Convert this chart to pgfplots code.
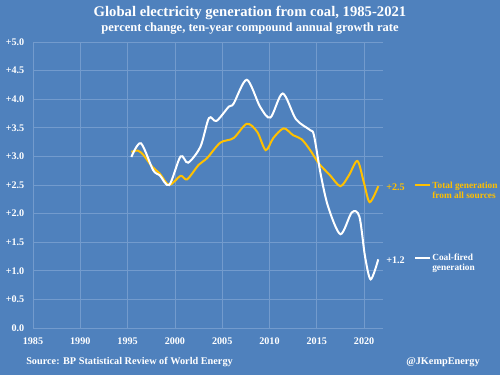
\documentclass[border=0pt]{standalone}
\usepackage{pgfplots}
\pgfplotsset{compat=1.18}
\usepackage{fontspec}
\setmainfont{Liberation Serif}
\definecolor{bgblue}{RGB}{79,129,189}
\definecolor{gold}{RGB}{255,192,0}
\definecolor{gridc}{RGB}{115,155,205}
\begin{document}
\begin{tikzpicture}
\fill[bgblue] (0,0) rectangle (375pt,281.25pt);
\useasboundingbox (0,0) rectangle (375pt,281.25pt);
\begin{axis}[
  at={(24.75pt,35.25pt)}, anchor=south west,
  scale only axis, width=262.5pt, height=214.5pt,
  xmin=1985, xmax=2022, ymin=0, ymax=5,
  xtick={1985,1990,...,2020}, ytick={0,0.5,...,5},
  axis line style={draw=none}, tick style={draw=none},
  grid=major, major grid style={gridc, line width=0.5pt},
  tick label style={font=\bfseries\fontsize{7.6}{9}\selectfont, text=white},
  /pgf/number format/assume math mode=true,
  xticklabel style={/pgf/number format/1000 sep={}, yshift=-4pt},
  yticklabel={\ifdim\tick pt=0pt 0.0\else+\pgfmathprintnumber[fixed,fixed zerofill,precision=1]{\tick}\fi},
  xticklabel={\pgfmathprintnumber[1000 sep={},fixed,precision=0]{\tick}},
  yticklabel style={xshift=-3pt},
  clip=false,
]
\addplot[gold, line width=1.5pt, smooth, tension=0.5] coordinates {
(1995.4,3.08)(1996.1,3.10)(1996.7,3.02)(1997.6,2.82)(1998.4,2.70)(1999.4,2.50)
(2000.6,2.66)(2001.3,2.60)(2002.5,2.85)(2003.4,2.97)(2004.8,3.24)(2006.2,3.32)
(2007.6,3.57)(2008.7,3.43)(2009.6,3.11)(2010.4,3.32)(2011.5,3.49)(2012.5,3.37)
(2013.4,3.30)(2014.3,3.11)(2015.2,2.88)(2016.4,2.67)(2017.5,2.48)(2018.4,2.67)
(2019.3,2.92)(2020.0,2.53)(2020.6,2.20)(2021.5,2.48)};
\addplot[white, line width=1.5pt, smooth, tension=0.5] coordinates {
(1995.4,2.99)(1996.4,3.23)(1997.7,2.76)(1998.4,2.67)(1999.4,2.50)(2000.6,3.00)
(2001.4,2.89)(2002.7,3.17)(2003.6,3.67)(2004.4,3.62)(2005.7,3.87)(2006.2,3.92)
(2007.6,4.34)(2009.0,3.87)(2010.1,3.68)(2011.4,4.10)(2012.8,3.65)(2014.3,3.46)
(2014.7,3.37)(2015.4,2.70)(2016.2,2.12)(2017.5,1.64)(2018.7,2.02)(2019.5,1.95)
(2020.1,1.25)(2020.7,0.85)(2021.5,1.20)};
\end{axis}
\node[text=white, font=\bfseries\fontsize{11}{13}\selectfont] at (187.5pt,271.5pt) {Global electricity generation from coal, 1985-2021};
\node[text=white, font=\bfseries\fontsize{9.4}{11}\selectfont] at (187.5pt,260pt) {percent change, ten-year compound annual growth rate};
\node[text=white, anchor=west, inner sep=0pt, font=\bfseries\fontsize{7.7}{9}\selectfont] at (19.5pt,9.75pt) {Source: BP Statistical Review of World Energy};
\node[text=white, anchor=east, inner sep=0pt, font=\bfseries\fontsize{7.7}{9}\selectfont] at (360pt,9.75pt) {@JKempEnergy};
\node[text=gold, anchor=west, inner sep=0pt, font=\bfseries\fontsize{7.6}{9}\selectfont] at (289.5pt,141pt) {+2.5};
\draw[gold, line width=1.5pt] (311.25pt,142.5pt) -- (322.5pt,142.5pt);
\node[text=gold, anchor=west, inner sep=0pt, align=left, font=\bfseries\fontsize{7}{7.5}\selectfont] at (324pt,138.75pt) {Total generation\\from all sources};
\node[text=white, anchor=west, inner sep=0pt, font=\bfseries\fontsize{7.6}{9}\selectfont] at (289.5pt,86.25pt) {+1.2};
\draw[white, line width=1.5pt] (311.25pt,87.75pt) -- (322.5pt,87.75pt);
\node[text=white, anchor=west, inner sep=0pt, align=left, font=\bfseries\fontsize{7}{7.5}\selectfont] at (324pt,83.6pt) {Coal-fired\\generation};
\end{tikzpicture}
\end{document}
